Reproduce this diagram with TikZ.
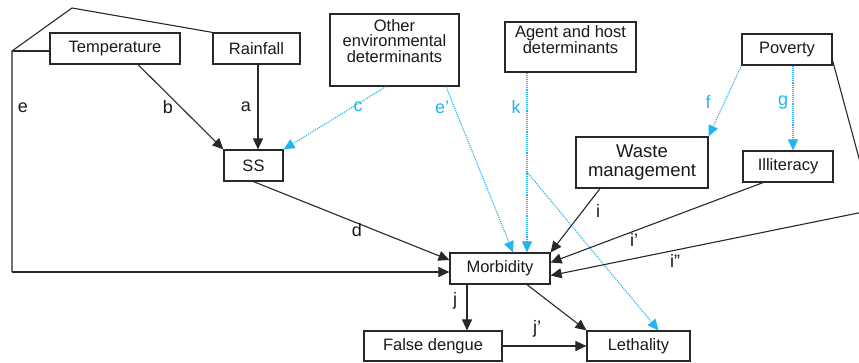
\documentclass[tikz,border=0pt]{standalone}
\usepackage{fontspec}
\setmainfont{Liberation Sans}
\usetikzlibrary{arrows.meta}
\definecolor{lineblue}{RGB}{35,180,240}
\definecolor{linegray}{RGB}{40,40,40}
\tikzset{
  box/.style={draw=linegray,line width=1.2pt,minimum width=#1,inner sep=0pt},
  txt/.style={font=\fontsize{16.5}{15.5}\selectfont,align=center,inner sep=0pt,text=black!90},
  lbl/.style={font=\fontsize{18}{18}\selectfont,inner sep=0pt,text=black!90},
  blbl/.style={font=\fontsize{18}{18}\selectfont,inner sep=0pt,text=lineblue},
  con/.style={draw=linegray,line width=1.1pt},
  arr/.style={con,-{Triangle[length=11pt,width=10pt]}},
  barr/.style={draw=lineblue,line width=1.1pt,densely dotted,-{Triangle[length=11pt,width=10pt]}},
  bcon/.style={draw=lineblue,line width=1.1pt,densely dotted},
}
\begin{document}
\begin{tikzpicture}[x=1pt,y=-1pt]
\useasboundingbox (0,0) rectangle (859,362);
\clip (0,0) rectangle (859,362);
% boxes
\node[box=130pt,minimum height=31pt,txt] (temp) at (115,48.5) {Temperature};
\node[box=87pt,minimum height=31pt,txt] (rain) at (256.5,48.5) {Rainfall};
\node[box=59pt,minimum height=31pt,txt] (ss) at (253.5,165.5) {SS};
\node[box=129pt,minimum height=72pt] (other) at (394.5,50) {};
\node[txt] (othertxt) at (394.5,41) {Other\\environmental\\determinants};
\node[box=131pt,minimum height=50pt] (agent) at (570.5,47) {};
\node[txt] (agenttxt) at (570.5,39.5) {Agent and host\\determinants};
\node[box=90pt,minimum height=31pt,txt] (poverty) at (787,49.5) {Poverty};
\node[box=132pt,minimum height=51pt,txt,font=\fontsize{18.5}{18.5}\selectfont] (waste) at (642,162.5) {Waste\\management};
\node[box=90pt,minimum height=31pt,txt] (illit) at (788,166.5) {Illiteracy};
\node[box=100pt,minimum height=31pt,txt] (morb) at (500,268.5) {Morbidity};
\node[box=138pt,minimum height=30pt,txt] (false) at (433,346) {False dengue};
\node[box=103pt,minimum height=30pt,txt] (leth) at (638.5,346) {Lethality};
% helper coordinates
\coordinate (ecorner) at (12,51);
\coordinate (etop) at (72,8);
\coordinate (ebottom) at (12,272);
\coordinate (kbranch) at (527,172);
\coordinate (pcorner) at (873,210);
% e path
\draw[con] (rain.north west) -- (etop) -- (ecorner) -- (ebottom);
\draw[con] ([yshift=-2.5pt]temp.west) -- (ecorner);
\draw[arr] (ebottom) -- ([yshift=-3.5pt]morb.west);
% into SS
\draw[arr] ([xshift=23pt]temp.south) -- (ss.north west);
\draw[arr] ([xshift=1.5pt]rain.south) -- ([xshift=1.5pt]rain.south |- ss.north);
\draw[barr] ([xshift=-8.5pt]other.south) -- (ss.north east);
% into morbidity
\draw[arr] (ss.south) -- ([yshift=8.5pt]morb.west);
\draw[barr] ([xshift=51.5pt]other.south) -- ([xshift=13pt]morb.north);
\draw[barr] ([xshift=-43.5pt]agent.south) -- ([xshift=27pt]morb.north);
\draw[barr] (kbranch) -- ([xshift=20pt]leth.north);
\draw[arr] ([xshift=-42pt]waste.south) -- (morb.north east);
\draw[arr] ([xshift=-25pt]illit.south) -- ([yshift=6pt]morb.east);
\draw[con] ([yshift=5pt]poverty.south east) -- (pcorner);
\draw[arr] (pcorner) -- ([yshift=-7pt]morb.east);
% poverty
\draw[barr] (poverty.south west) -- (waste.north east);
\draw[barr] ([xshift=6pt]poverty.south) -- ([xshift=6pt]poverty.south |- illit.north);
% outputs
\draw[arr] ([xshift=-33pt]morb.south) -- ([xshift=-33pt]morb.south |- false.north);
\draw[arr] ([xshift=27pt]morb.south) -- (leth.north west);
\draw[arr] (false.east) -- (leth.west);
% labels
\node[lbl] (le) at (23,108) {e};
\node[lbl] (lb) at (168,107) {b};
\node[lbl] (la) at (246,107) {a};
\node[blbl] (lc) at (358,107) {c};
\node[blbl] (lep) at (442,107) {e'};
\node[blbl] (lk) at (516,107) {k};
\node[blbl] (lf) at (708,102) {f};
\node[blbl] (lg) at (783,103) {g};
\node[lbl] (ld) at (357,230) {d};
\node[lbl] (li) at (598,211) {i};
\node[lbl] (lip) at (634,240) {i'};
\node[lbl] (lipp) at (675,261) {i''};
\node[lbl] (lj) at (455,301) {j};
\node[lbl] (ljp) at (537,329) {j'};
\end{tikzpicture}
\end{document}
